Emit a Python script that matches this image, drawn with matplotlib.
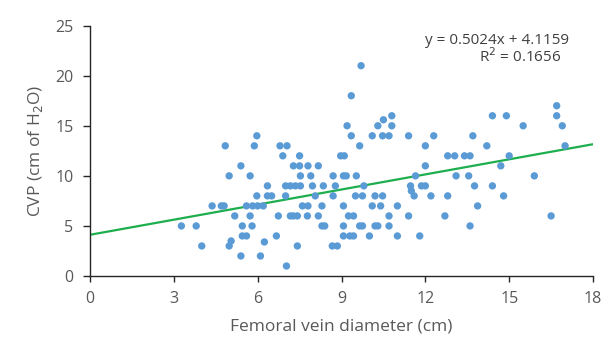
import matplotlib
matplotlib.use("Agg")
import matplotlib.pyplot as plt
import numpy as np

plt.rcParams['font.family'] = ['Open Sans', 'DejaVu Sans']

# Femoral vein diameter (cm)
fvd = [
    3.27, 3.8, 4.0, 4.37, 4.7, 4.8, 4.84, 4.98, 4.98, 5.05, 5.18, 5.4, 5.45, 5.45, 5.4, 5.6,
    5.6, 5.82, 6.0, 6.2, 5.73, 5.73, 5.8, 5.88, 5.97, 5.97, 6.1, 6.24, 6.35, 6.35, 6.5,
    6.67, 6.74, 6.8, 7.05, 6.9, 7.0, 7.0, 7.03,
    7.17, 7.35, 7.53, 7.17, 7.28, 7.42, 7.28, 7.5, 7.8, 8.17, 7.5, 7.53, 7.9, 7.42,
    7.6, 7.8, 7.78, 7.96, 8.35, 8.06, 8.17, 8.3, 8.3, 8.4,
    8.67, 8.85, 8.7, 9.07, 9.17, 9.53, 8.78, 8.7, 8.97, 9.1, 9.07, 9.07, 9.07, 9.3, 9.43,
    9.25, 9.43, 9.2, 9.35, 9.35, 9.65, 9.7, 9.8, 9.5, 9.75, 9.65, 9.75, 10.0,
    10.1, 10.47, 10.7, 10.3, 10.5, 10.8, 10.8, 10.2, 10.47, 10.1, 10.4, 10.7,
    10.2, 10.3, 10.7, 11.0, 11.0, 11.4, 11.4, 11.47, 11.5, 11.6, 11.65, 11.8,
    11.86, 12.0, 12.0, 12.0, 12.2, 12.3, 12.7, 12.8, 12.8, 13.05, 13.4, 13.6,
    13.1, 13.55, 13.6, 13.7, 13.76, 13.87,
    14.2, 14.4, 14.4, 14.7, 14.8, 14.9, 15.0, 15.5, 15.9, 16.5, 16.7, 16.7, 16.9, 17.0,
]
# Central venous pressure (cm of H2O)
cvp = [
    5, 5, 3, 7, 7, 7, 13, 10, 3, 3.5, 6, 11, 5, 4, 2, 4,
    7, 7, 7, 7, 10, 6, 5, 13, 14, 8, 2, 3.4, 9, 8, 8,
    4, 6, 13, 13, 12, 9, 8, 1,
    9, 9, 9, 6, 6, 6, 11, 11, 11, 11, 12, 10, 10, 3,
    7, 7, 6, 9, 9, 8, 6, 7, 5, 5,
    3, 3, 10, 10, 10, 10, 9, 8, 12, 12, 7, 5, 4, 4, 4,
    6, 6, 15, 14, 18, 13, 21, 9, 8, 8, 5, 5, 4,
    14, 14, 14, 15, 15.6, 16, 15, 8, 8, 7, 7, 6,
    5, 5, 5, 4, 7, 6, 14, 9, 8.5, 8, 10, 4,
    9, 9, 13, 11, 8, 14, 6, 8, 12, 12, 12, 12,
    10, 10, 5, 14, 9, 7,
    13, 16, 9, 11, 8, 16, 12, 15, 10, 6, 17, 16, 15, 13,
]

slope = 0.5024
intercept = 4.1159
r_squared = 0.1656

x_ticks = [0, 3, 6, 9, 12, 15, 18]
y_ticks = [0, 5, 10, 15, 20, 25]

fig = plt.figure(figsize=(6.13, 3.56), dpi=100)
ax = fig.add_axes([0.1468, 0.2247, 0.8206, 0.7033])

ax.scatter(fvd, cvp, s=28, color='#5B9BD5', edgecolors='none', zorder=3)

xl = np.array([x_ticks[0], x_ticks[-1]])
ax.plot(xl, slope * xl + intercept, color='#1DAE4E', lw=1.6, zorder=2)

ax.set_xlim(0, 18)
ax.set_ylim(0, 25)
ax.set_xticks(x_ticks)
ax.set_yticks(y_ticks)

for side in ['top', 'right']:
    ax.spines[side].set_visible(False)
for side in ['left', 'bottom']:
    ax.spines[side].set_color('#262626')
    ax.spines[side].set_linewidth(1.0)
ax.tick_params(axis='y', direction='out', length=5, width=1.0, color='#262626',
               labelcolor='#595959', labelsize=11.5, pad=7)
ax.tick_params(axis='x', direction='out', length=4, width=1.0, color='#262626',
               labelcolor='#595959', labelsize=11.5, pad=7)

ax.set_xlabel('Femoral vein diameter (cm)', color='#595959', fontsize=12.5, labelpad=8)
ax.set_ylabel('CVP (cm of H$_2$O)', color='#595959', fontsize=12.5, labelpad=7)

ax.text(14.55, 23.5, f'y = {slope}x + {intercept}', color='#404040', fontsize=11,
        ha='center', va='center')
ax.text(15.4, 21.9, f'R$^2$ = {r_squared}', color='#404040', fontsize=11,
        ha='center', va='center')

fig.savefig('out.png', dpi=100, facecolor='white')
